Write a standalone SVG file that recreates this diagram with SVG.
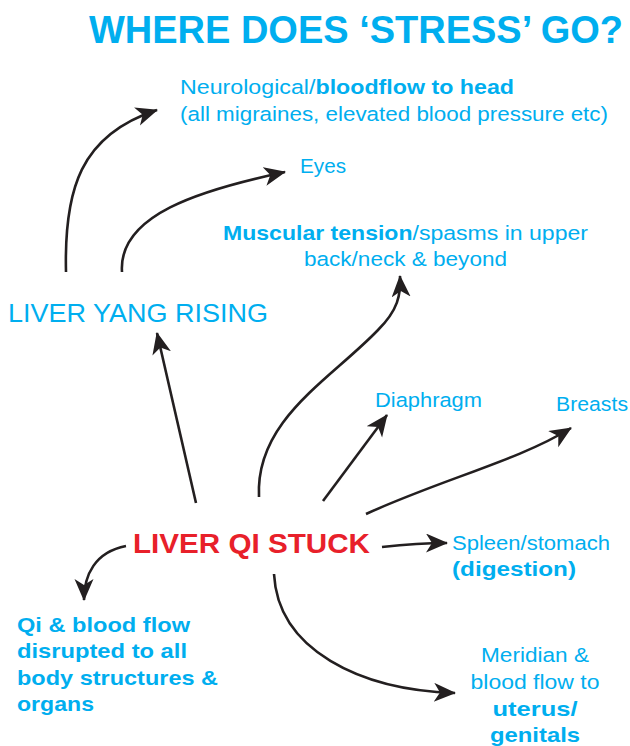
<svg xmlns="http://www.w3.org/2000/svg" width="630" height="746" viewBox="0 0 630 746">
<defs>
<style>
.t{font-family:"Liberation Sans",Arial,sans-serif;fill:#00AEEF;font-size:20.5px}
.b{font-weight:bold}
.title{font-family:"Liberation Sans",Arial,sans-serif;fill:#00AEEF;font-size:38px;font-weight:bold}
.red{font-family:"Liberation Sans",Arial,sans-serif;fill:#E8202A;font-size:27px;font-weight:bold}
.c{fill:none;stroke:#231F20;stroke-width:2.6;marker-end:url(#ah)}
</style>
<marker id="ah" markerUnits="userSpaceOnUse" markerWidth="30" markerHeight="30" refX="21" refY="9.5" orient="auto">
<path d="M22,9.5 L0,0 L6,9.5 L0,19 Z" fill="#231F20"/>
</marker>
</defs>
<rect width="630" height="746" fill="#fff"/>
<g id="title"><text class="title" x="89" y="43" textLength="534" lengthAdjust="spacingAndGlyphs">WHERE DOES ‘STRESS’ GO?</text></g>
<g id="connectors">
<path class="c" d="M66,272 C64,190 80,135 157,110"/>
<path class="c" d="M122,272 C118,215 200,190 285,172"/>
<path class="c" d="M259,497 C255,420 330,380 378,330 C398,310 401,295 400,276"/>
<path class="c" d="M196,503 L157,333"/>
<path class="c" d="M323,501 L387,415"/>
<path class="c" d="M366,514 C440,480 520,460 571,428"/>
<path class="c" d="M382,547 C400,545 420,543 447,543"/>
<path class="c" d="M126,546 C95,552 84,575 84,600"/>
<path class="c" d="M274,574 C278,650 360,690 455,693"/>
</g>
<g id="n-head"><text class="t" x="180" y="94" textLength="334" lengthAdjust="spacingAndGlyphs">Neurological/<tspan class="b">bloodflow to head</tspan></text>
<text class="t" x="180" y="121" textLength="428" lengthAdjust="spacingAndGlyphs">(all migraines, elevated blood pressure etc)</text></g>
<g id="n-eyes"><text class="t" x="300" y="173" textLength="46" lengthAdjust="spacingAndGlyphs">Eyes</text></g>
<g id="n-muscular"><text class="t" x="223" y="240" textLength="365" lengthAdjust="spacingAndGlyphs"><tspan class="b">Muscular tension</tspan>/spasms in upper</text>
<text class="t" x="304" y="266" textLength="203" lengthAdjust="spacingAndGlyphs">back/neck &amp; beyond</text></g>
<g id="n-yang"><text class="t" x="8" y="322" style="font-size:26px" textLength="260" lengthAdjust="spacingAndGlyphs">LIVER YANG RISING</text></g>
<g id="n-diaphragm"><text class="t" x="375" y="407" textLength="107" lengthAdjust="spacingAndGlyphs">Diaphragm</text></g>
<g id="n-breasts"><text class="t" x="556" y="411" textLength="72" lengthAdjust="spacingAndGlyphs">Breasts</text></g>
<g id="n-stuck"><text class="red" x="133" y="553" textLength="237" lengthAdjust="spacingAndGlyphs">LIVER QI STUCK</text></g>
<g id="n-spleen"><text class="t" x="452" y="550" textLength="158" lengthAdjust="spacingAndGlyphs">Spleen/stomach</text>
<text class="t b" x="452" y="576" textLength="124" lengthAdjust="spacingAndGlyphs">(digestion)</text></g>
<g id="n-qi"><text class="t b" x="17" y="632" textLength="173" lengthAdjust="spacingAndGlyphs">Qi &amp; blood flow</text>
<text class="t b" x="17" y="658" textLength="170" lengthAdjust="spacingAndGlyphs">disrupted to all</text>
<text class="t b" x="17" y="685" textLength="201" lengthAdjust="spacingAndGlyphs">body structures &amp;</text>
<text class="t b" x="17" y="711" textLength="77" lengthAdjust="spacingAndGlyphs">organs</text></g>
<g id="n-meridian"><text class="t" x="535" y="662" text-anchor="middle" textLength="108" lengthAdjust="spacingAndGlyphs">Meridian &amp;</text>
<text class="t" x="535" y="689" text-anchor="middle" textLength="129" lengthAdjust="spacingAndGlyphs">blood flow to</text>
<text class="t b" x="535" y="716" text-anchor="middle" textLength="85" lengthAdjust="spacingAndGlyphs">uterus/</text>
<text class="t b" x="535" y="742" text-anchor="middle" textLength="90" lengthAdjust="spacingAndGlyphs">genitals</text></g>
</svg>
